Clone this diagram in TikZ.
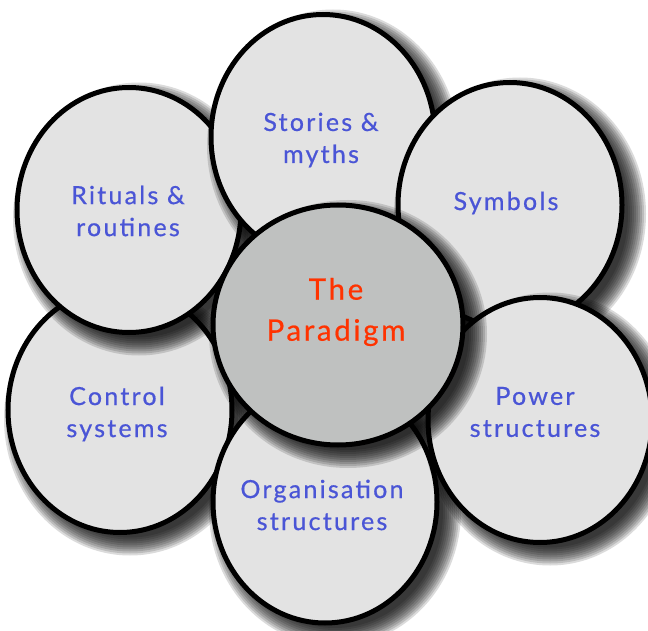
\documentclass[tikz,border=0pt]{standalone}
\usepackage{fontspec}
\setmainfont{Lato}[LetterSpace=9,FakeBold=0.6]
\usetikzlibrary{shapes.geometric}
\definecolor{petalfill}{HTML}{E3E3E3}
\definecolor{hubfill}{HTML}{BFC1C0}
\definecolor{petaltext}{HTML}{4A55D6}
\definecolor{hubtext}{HTML}{FF3300}
\newcommand{\petalshadow}[4]{%
  \foreach \d in {-4,-2,...,14} {%
    \fill[black, opacity=0.14] (#1+10,#2+9) ellipse [x radius=#3+\d, y radius=#4+\d];%
  }%
}
\begin{document}
\begin{tikzpicture}[x=1pt,y=-1pt,
  petal/.style={ellipse, draw=black, line width=5pt, fill=petalfill, inner sep=0pt,
    minimum width=224pt, minimum height=245pt},
  hub/.style={petal, fill=hubfill, minimum width=250pt, minimum height=240pt},
  ptext/.style={text=petaltext, font=\fontsize{25}{32}\selectfont, align=center, inner sep=0pt},
  htext/.style={text=hubtext, font=\fontsize{29.5}{41}\selectfont, align=center, inner sep=0pt}]
\clip (0,0) rectangle (648,631);
\petalshadow{120}{410}{112}{122.5}
\node[petal] (control) at (120,410) {};
\petalshadow{129}{210}{112}{122.5}
\node[petal] (rituals) at (129,210) {};
\petalshadow{323}{137}{112}{122.5}
\node[petal] (stories) at (323,137) {};
\petalshadow{510}{205}{112}{122.5}
\node[petal] (symbols) at (510,205) {};
\petalshadow{325}{502}{112}{121}
\node[petal, minimum height=242pt] (organisation) at (325,502) {};
\petalshadow{540}{420}{112}{122.5}
\node[petal] (power) at (540,420) {};
\petalshadow{338}{325}{125}{120}
\node[hub] (hub) at (338,325) {};
\node[ptext] (t-control) at (117,414) {Control\\systems};
\node[ptext] (t-rituals) at (128,211) {Rituals \&\\routines};
\node[ptext] (t-stories) at (321,140) {Stories \&\\myths};
\node[ptext] (t-symbols) at (506,203) {Symbols};
\node[ptext] (t-organisation) at (322,505) {Organisation\\structures};
\node[ptext] (t-power) at (535,412) {Power\\structures};
\node[htext] (t-hub) at (336,312) {The\\Paradigm};
\end{tikzpicture}
\end{document}
